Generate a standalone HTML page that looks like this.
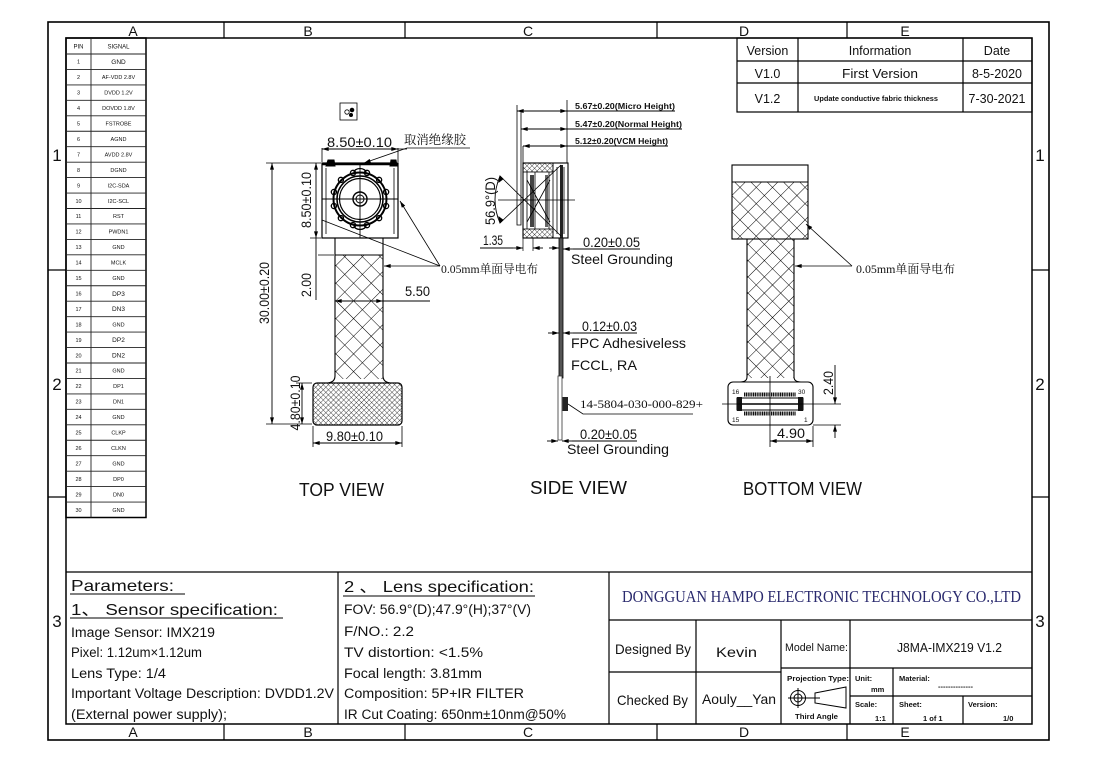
<!DOCTYPE html>
<html><head><meta charset="utf-8">
<style>
html,body{margin:0;padding:0;background:#fff;}
svg{display:block;}
text{font-family:"Liberation Sans","Noto Sans CJK SC",sans-serif;fill:#111;}
.sf{font-family:"Liberation Serif","Noto Serif CJK SC",serif;}
.cj{font-family:"Liberation Serif","Noto Serif CJK SC","Noto Sans CJK SC",serif;}
</style></head><body>
<svg width="1097" height="766" viewBox="0 0 1097 766" xmlns="http://www.w3.org/2000/svg">
<defs>
<pattern id="hb" patternUnits="userSpaceOnUse" width="12.5" height="12.5" patternTransform="rotate(45)">
<path d="M0 0H12.5M0 0V12.5" stroke="#000" stroke-width="1" fill="none"/>
</pattern>
<pattern id="hb2" patternUnits="userSpaceOnUse" width="11.5" height="11.5" patternTransform="rotate(45)">
<path d="M0 0H11.5M0 0V11.5" stroke="#000" stroke-width="1" fill="none"/>
</pattern>
<pattern id="hf" patternUnits="userSpaceOnUse" width="3.6" height="3.6" patternTransform="rotate(45)">
<path d="M0 0H3.6M0 0V3.6" stroke="#000" stroke-width="0.7" fill="none"/>
</pattern>
<marker id="ar" viewBox="0 0 10 6" refX="10" refY="3" markerWidth="8" markerHeight="4" orient="auto-start-reverse" markerUnits="userSpaceOnUse">
<path d="M0,0L10,3L0,6z" fill="#000"/>
</marker>
</defs>

<!-- FRAME -->
<g fill="none" stroke="#000">
<rect x="48" y="22" width="1001" height="718" stroke-width="1.6"/>
<rect x="66" y="38" width="966" height="686" stroke-width="1.5"/>
<path d="M224 22V38M405 22V38M657 22V38M847 22V38M224 724V740M405 724V740M657 724V740M847 724V740M48 270H66M48 497H66M1032 270H1049M1032 497H1049" stroke-width="1.2"/>
</g>
<g font-size="14" text-anchor="middle">
<text x="133" y="36">A</text><text x="308" y="36">B</text><text x="528" y="36">C</text><text x="744" y="36">D</text><text x="905" y="36">E</text>
<text x="133" y="737">A</text><text x="308" y="737">B</text><text x="528" y="737">C</text><text x="744" y="737">D</text><text x="905" y="737">E</text>
</g>
<g font-size="17" text-anchor="middle">
<text x="57" y="161">1</text><text x="57" y="390">2</text><text x="57" y="627">3</text>
<text x="1040" y="161">1</text><text x="1040" y="390">2</text><text x="1040" y="627">3</text>
</g>

<!-- PIN TABLE -->
<rect x="66" y="38" width="80" height="479.5" fill="none" stroke="#000" stroke-width="1.5"/>
<path d="M91 38V517.5M66 54H146M66 69.45H146M66 84.9H146M66 100.35H146M66 115.8H146M66 131.25H146M66 146.7H146M66 162.15H146M66 177.6H146M66 193.05H146M66 208.5H146M66 223.95H146M66 239.4H146M66 254.85H146M66 270.3H146M66 285.75H146M66 301.2H146M66 316.65H146M66 332.1H146M66 347.55H146M66 363H146M66 378.45H146M66 393.9H146M66 409.35H146M66 424.8H146M66 440.25H146M66 455.7H146M66 471.15H146M66 486.6H146M66 502.05H146" stroke="#222" stroke-width="0.9" fill="none"/>
<g font-size="6" text-anchor="middle">
<text x="78.5" y="48.5">PIN</text><text x="118.5" y="48.5">SIGNAL</text>
</g>
<g class="sf" font-size="5.5" text-anchor="middle" style="fill:#333">
<text x="78.5" y="63.7">1</text><text x="78.5" y="79.2">2</text><text x="78.5" y="94.6">3</text><text x="78.5" y="110.1">4</text><text x="78.5" y="125.5">5</text><text x="78.5" y="141">6</text><text x="78.5" y="156.4">7</text><text x="78.5" y="171.9">8</text><text x="78.5" y="187.3">9</text><text x="78.5" y="202.8">10</text><text x="78.5" y="218.2">11</text><text x="78.5" y="233.7">12</text><text x="78.5" y="249.1">13</text><text x="78.5" y="264.6">14</text><text x="78.5" y="280">15</text><text x="78.5" y="295.5">16</text><text x="78.5" y="310.9">17</text><text x="78.5" y="326.4">18</text><text x="78.5" y="341.8">19</text><text x="78.5" y="357.3">20</text><text x="78.5" y="372.7">21</text><text x="78.5" y="388.2">22</text><text x="78.5" y="403.6">23</text><text x="78.5" y="419.1">24</text><text x="78.5" y="434.5">25</text><text x="78.5" y="450">26</text><text x="78.5" y="465.4">27</text><text x="78.5" y="480.9">28</text><text x="78.5" y="496.3">29</text><text x="78.5" y="511.8">30</text>
<text x="118.5" y="79.2">AF-VDD 2.8V</text><text x="118.5" y="94.6">DVDD 1.2V</text><text x="118.5" y="110.1">DOVDD 1.8V</text><text x="118.5" y="125.5">FSTROBE</text><text x="118.5" y="141">AGND</text><text x="118.5" y="156.4">AVDD 2.8V</text><text x="118.5" y="171.9">DGND</text><text x="118.5" y="187.3">I2C-SDA</text><text x="118.5" y="202.8">I2C-SCL</text><text x="118.5" y="218.2">RST</text><text x="118.5" y="233.7">PWDN1</text><text x="118.5" y="249.1">GND</text><text x="118.5" y="264.6">MCLK</text><text x="118.5" y="280">GND</text><text x="118.5" y="326.4">GND</text><text x="118.5" y="372.7">GND</text><text x="118.5" y="388.2">DP1</text><text x="118.5" y="403.6">DN1</text><text x="118.5" y="419.1">GND</text><text x="118.5" y="434.5">CLKP</text><text x="118.5" y="450">CLKN</text><text x="118.5" y="465.4">GND</text><text x="118.5" y="480.9">DP0</text><text x="118.5" y="496.3">DN0</text><text x="118.5" y="511.8">GND</text>
</g>
<g font-size="6.5" text-anchor="middle">
<text x="118.5" y="64">GND</text><text x="118.5" y="295.8">DP3</text><text x="118.5" y="311.2">DN3</text><text x="118.5" y="342.1">DP2</text><text x="118.5" y="357.6">DN2</text>
</g>

<!-- VERSION TABLE -->
<g fill="none" stroke="#000" stroke-width="1.2">
<rect x="737" y="38" width="295" height="74"/>
<path d="M798 38V112M963 38V112M737 61H1032M737 83H1032"/>
</g>
<g font-size="12.5" text-anchor="middle">
<text x="767.5" y="55">Version</text><text x="880" y="55">Information</text><text x="997" y="55">Date</text>
<text x="767.5" y="78">V1.0</text><text x="880" y="78" textLength="76" lengthAdjust="spacingAndGlyphs">First Version</text><text x="997" y="78">8-5-2020</text>
<text x="767.5" y="103">V1.2</text><text x="997" y="103">7-30-2021</text>
</g>
<text x="876" y="101" font-size="7.5" font-weight="bold" text-anchor="middle" textLength="124" lengthAdjust="spacingAndGlyphs">Update conductive fabric thickness</text>

<!-- TOP VIEW -->
<g stroke="#000" fill="none" stroke-width="1">
<rect x="340" y="103" width="17" height="17" stroke-width="0.8"/>
<circle cx="347" cy="112" r="2.2" stroke-width="0.8"/><circle cx="352" cy="110" r="1.8" fill="#000"/><circle cx="351" cy="115" r="1.5" fill="#000"/>
<rect x="322" y="163" width="76" height="75" stroke-width="1.2"/>
<path d="M326 168V234M394 168V234" stroke-width="0.8"/>
<path d="M322 164H398" stroke-width="2.6"/>
<path d="M326 166L328 160H334L335 166Z M390 166L391 160H396L397 166Z" fill="#000"/>
<circle cx="360" cy="199" r="26.5" stroke-width="2"/>
<circle cx="360" cy="199" r="23" stroke-width="1.5"/>
<circle cx="360" cy="199" r="20.5" stroke-width="1.2"/>
<circle cx="360" cy="199" r="7" stroke-width="1.4"/>
<circle cx="360" cy="199" r="4" stroke-width="1"/>
<g stroke-width="1.3">
<circle cx="367" cy="172.9" r="2.6"/><circle cx="379.1" cy="179.9" r="2.6"/><circle cx="386.1" cy="192" r="2.6"/><circle cx="386.1" cy="206" r="2.6"/><circle cx="379.1" cy="218.1" r="2.6"/><circle cx="367" cy="225.1" r="2.6"/><circle cx="353" cy="225.1" r="2.6"/><circle cx="340.9" cy="218.1" r="2.6"/><circle cx="333.9" cy="206" r="2.6"/><circle cx="333.9" cy="192" r="2.6"/><circle cx="340.9" cy="179.9" r="2.6"/><circle cx="353" cy="172.9" r="2.6"/>
<path d="M354 172.5A6 4 0 0 1 366 172.5M354 225.5A6 4 0 0 0 366 225.5"/>
</g>
<path d="M322 199H398M360 163V238" stroke-width="0.9"/>
<path d="M335 238V376Q335 382 328 383M383 238V376Q383 382 390 383" stroke-width="1.1"/>
<path d="M335 255H383" stroke-width="1"/>
<rect x="335" y="255" width="48" height="124" fill="url(#hb)" stroke="none"/>
<rect x="313" y="383" width="89" height="42" rx="4" fill="url(#hf)" stroke-width="1.2"/>
<path d="M322 148V162M398 148V162M266 163H321M310 238H321M318 255H334M266 424H312M296 383H312M313 426V447M402 426V447" stroke-width="0.8"/>
<line x1="272" y1="163" x2="272" y2="424" marker-start="url(#ar)" marker-end="url(#ar)" stroke-width="0.9"/>
<line x1="322" y1="149" x2="398" y2="149" marker-start="url(#ar)" marker-end="url(#ar)" stroke-width="0.9"/>
<path d="M398 149H407" stroke-width="0.8"/>
<line x1="407" y1="148" x2="364" y2="163" marker-end="url(#ar)" stroke-width="0.8"/>
<path d="M407 148H470" stroke-width="0.8"/>
<line x1="316" y1="163" x2="316" y2="238" marker-start="url(#ar)" marker-end="url(#ar)" stroke-width="0.9"/>
<line x1="316" y1="238" x2="316" y2="300" stroke-width="0.9"/>
<line x1="302" y1="383" x2="302" y2="424" marker-start="url(#ar)" marker-end="url(#ar)" stroke-width="0.9"/>
<line x1="313" y1="443" x2="402" y2="443" marker-start="url(#ar)" marker-end="url(#ar)" stroke-width="0.9"/>
<line x1="335" y1="301" x2="383" y2="301" marker-start="url(#ar)" marker-end="url(#ar)" stroke-width="0.9"/>
<path d="M383 301H430" stroke-width="0.9"/>
<line x1="440" y1="266" x2="400" y2="201" marker-end="url(#ar)" stroke-width="0.8"/>
<line x1="440" y1="266" x2="322" y2="220" stroke-width="0.8"/>
<line x1="440" y1="266" x2="384" y2="266" marker-end="url(#ar)" stroke-width="0.8"/>
</g>
<g font-size="14">
<text x="327" y="147" textLength="65" lengthAdjust="spacingAndGlyphs">8.50±0.10</text>
<text x="405" y="296" textLength="25" lengthAdjust="spacingAndGlyphs">5.50</text>
<text x="326" y="441" textLength="57" lengthAdjust="spacingAndGlyphs">9.80±0.10</text>
<text transform="translate(269,293) rotate(-90)" text-anchor="middle" textLength="62" lengthAdjust="spacingAndGlyphs">30.00±0.20</text>
<text transform="translate(311,200) rotate(-90)" text-anchor="middle" textLength="56" lengthAdjust="spacingAndGlyphs">8.50±0.10</text>
<text transform="translate(311,285) rotate(-90)" text-anchor="middle" textLength="24" lengthAdjust="spacingAndGlyphs">2.00</text>
<text transform="translate(300,403) rotate(-90)" text-anchor="middle" textLength="55" lengthAdjust="spacingAndGlyphs">4.80±0.10</text>
</g>
<text class="cj" x="404" y="144" font-size="12.5" textLength="62" lengthAdjust="spacingAndGlyphs">取消绝缘胶</text>
<text class="cj" x="441" y="273" font-size="12" textLength="97" lengthAdjust="spacingAndGlyphs">0.05mm单面导电布</text>

<!-- SIDE VIEW -->
<g stroke="#000" fill="none" stroke-width="0.9">
<path d="M517 105V225H521V112M523 146V163M567 100V163" stroke-width="0.8"/>
<line x1="517" y1="111" x2="567" y2="111" marker-start="url(#ar)" marker-end="url(#ar)"/>
<path d="M567 111H675"/>
<line x1="521" y1="129" x2="567" y2="129" marker-start="url(#ar)" marker-end="url(#ar)"/>
<path d="M567 129H682"/>
<line x1="523" y1="146" x2="567" y2="146" marker-start="url(#ar)" marker-end="url(#ar)"/>
<path d="M567 146H668"/>
<rect x="523" y="163" width="45" height="75" stroke-width="1.1"/>
<rect x="523" y="163" width="30" height="9" fill="url(#hf)" stroke-width="0.8"/>
<rect x="523" y="229" width="30" height="9" fill="url(#hf)" stroke-width="0.8"/>
<path d="M527 172V229M535 172V229M549 172V229M553 163V238M557 167V234M564 167V234" stroke-width="0.8"/>
<rect x="530" y="175" width="4" height="52" fill="#444" stroke="none"/>
<rect x="545" y="175" width="3" height="52" fill="#666" stroke="none"/>
<path d="M527 180L550 222M527 222L550 180" stroke-width="0.8"/>
<rect x="560" y="165" width="3" height="73" fill="#222" stroke="none"/>
<path d="M500 176Q490 200 500 223" stroke-width="0.9"/>
<path d="M500 176L561 236M500 223L561 165" stroke-width="0.8"/>
<path d="M498 200H575" stroke-width="0.8"/>
<path d="M500 176l-1 6l4-3zM500 223l-1-6l4 3z" fill="#000"/>
<path d="M523 238V251M533 238V251" stroke-width="0.7"/>
<path d="M480 248H513" stroke-width="0.9"/>
<line x1="513" y1="248" x2="523" y2="248" marker-end="url(#ar)"/>
<line x1="543" y1="248" x2="533" y2="248" marker-end="url(#ar)"/>
<rect x="559" y="238" width="4" height="140" fill="#555" stroke="#000" stroke-width="0.8"/>
<rect x="558" y="376" width="4" height="64" fill="#fff" stroke="#333" stroke-width="0.8"/>
<rect x="562.5" y="397" width="5.5" height="14" fill="#222" stroke="none"/>
<line x1="549" y1="248" x2="559" y2="248" marker-end="url(#ar)"/>
<line x1="573" y1="249" x2="563" y2="249" marker-end="url(#ar)"/>
<path d="M573 249H640"/>
<line x1="548" y1="333" x2="559" y2="333" marker-end="url(#ar)"/>
<line x1="573" y1="333" x2="563" y2="333" marker-end="url(#ar)"/>
<path d="M573 333H637"/>
<line x1="547" y1="441" x2="558" y2="441" marker-end="url(#ar)"/>
<line x1="572" y1="441" x2="562" y2="441" marker-end="url(#ar)"/>
<path d="M572 441H637"/>
<path d="M568 404L583 414H693" stroke-width="0.8"/>
</g>
<g font-size="8.5" font-weight="bold">
<text x="575" y="109" textLength="100" lengthAdjust="spacingAndGlyphs">5.67±0.20(Micro Height)</text>
<text x="575" y="127" textLength="107" lengthAdjust="spacingAndGlyphs">5.47±0.20(Normal Height)</text>
<text x="575" y="144" textLength="93" lengthAdjust="spacingAndGlyphs">5.12±0.20(VCM Height)</text>
</g>
<g font-size="14">
<text transform="translate(495,201) rotate(-90)" text-anchor="middle" textLength="48" lengthAdjust="spacingAndGlyphs">56.9°(D)</text>
<text x="483" y="245" textLength="20" lengthAdjust="spacingAndGlyphs">1.35</text>
<text x="583" y="247" textLength="57" lengthAdjust="spacingAndGlyphs">0.20±0.05</text>
<text x="571" y="264" textLength="102" lengthAdjust="spacingAndGlyphs">Steel Grounding</text>
<text x="582" y="331" textLength="55" lengthAdjust="spacingAndGlyphs">0.12±0.03</text>
<text x="571" y="348" textLength="115" lengthAdjust="spacingAndGlyphs">FPC Adhesiveless</text>
<text x="571" y="370" textLength="66" lengthAdjust="spacingAndGlyphs">FCCL,  RA</text>
<text x="580" y="439" textLength="57" lengthAdjust="spacingAndGlyphs">0.20±0.05</text>
<text x="567" y="454" textLength="102" lengthAdjust="spacingAndGlyphs">Steel Grounding</text>
</g>
<text class="sf" x="580" y="408" font-size="12" textLength="123" lengthAdjust="spacingAndGlyphs">14-5804-030-000-829+</text>

<!-- BOTTOM VIEW -->
<g stroke="#000" fill="none" stroke-width="1.1">
<rect x="732" y="182" width="76" height="57" fill="url(#hb2)" stroke="none"/>
<rect x="732" y="165" width="76" height="74"/>
<path d="M732 182H808"/>
<rect x="747" y="239" width="47" height="139" fill="url(#hb2)" stroke="none"/>
<path d="M747 239V377Q747 382 740 382M794 239V377Q794 382 801 382"/>
<rect x="728" y="382" width="85" height="43" rx="5" fill="#fff"/>
<rect x="737" y="398" width="66" height="12" stroke-width="1"/>
<rect x="737" y="397" width="5" height="14" fill="#111" stroke="none"/>
<rect x="798" y="397" width="5" height="14" fill="#111" stroke="none"/>
<path d="M744 394.5H796M744 413.5H796" stroke-width="4" stroke-dasharray="1.2 0.6" stroke="#111"/>
<path d="M742 404H798" stroke-width="1.5"/>
<path d="M770 376V447M722 404H841" stroke-width="0.8"/>
<path d="M813 425H841M813 426V447" stroke-width="0.8"/>
<line x1="835" y1="390" x2="835" y2="404" marker-end="url(#ar)" stroke-width="0.9"/>
<line x1="835" y1="438" x2="835" y2="425" marker-end="url(#ar)" stroke-width="0.9"/>
<path d="M835 365V390" stroke-width="0.9"/>
<line x1="770" y1="441" x2="813" y2="441" marker-start="url(#ar)" marker-end="url(#ar)" stroke-width="0.9"/>
<line x1="852" y1="266" x2="806" y2="224" marker-end="url(#ar)" stroke-width="0.8"/>
<line x1="852" y1="266" x2="795" y2="266" marker-end="url(#ar)" stroke-width="0.8"/>
</g>
<g class="sf" font-size="6.5">
<text x="732" y="394">16</text><text x="798" y="394">30</text><text x="732" y="422">15</text><text x="804" y="422">1</text>
</g>
<g font-size="14">
<text x="777" y="438" textLength="28" lengthAdjust="spacingAndGlyphs">4.90</text>
<text transform="translate(833,383) rotate(-90)" text-anchor="middle" textLength="24" lengthAdjust="spacingAndGlyphs">2.40</text>
</g>
<text class="cj" x="856" y="273" font-size="12" textLength="99" lengthAdjust="spacingAndGlyphs">0.05mm单面导电布</text>

<!-- VIEW TITLES -->
<g class="sf" font-size="18">
<text x="299" y="496" textLength="85" lengthAdjust="spacingAndGlyphs">TOP VIEW</text>
<text x="530" y="494" textLength="97" lengthAdjust="spacingAndGlyphs">SIDE VIEW</text>
<text x="743" y="495" textLength="119" lengthAdjust="spacingAndGlyphs">BOTTOM VIEW</text>
</g>

<!-- TITLE BLOCK -->
<g fill="none" stroke="#000" stroke-width="1.2">
<path d="M66 572H1032M338 572V724M609 572V724M609 620H1032M609 672H781M781 668H1032M850 696H1032M696 620V724M781 620V724M850 620V724M893 668V724M963 696V724"/>
<path d="M70 594H185M70 618H283M343 596H535" stroke-width="1"/>
</g>
<g font-size="16">
<text x="71" y="591" textLength="103" lengthAdjust="spacingAndGlyphs">Parameters:</text>
<text x="71" y="615" textLength="207" lengthAdjust="spacingAndGlyphs">1、 Sensor specification:</text>
<text x="344" y="592" textLength="190" lengthAdjust="spacingAndGlyphs">2 、 Lens specification:</text>
</g>
<g font-size="13.5">
<text x="71" y="637" textLength="144" lengthAdjust="spacingAndGlyphs">Image Sensor:  IMX219</text>
<text x="71" y="657" textLength="131" lengthAdjust="spacingAndGlyphs">Pixel:  1.12um×1.12um</text>
<text x="71" y="678" textLength="95" lengthAdjust="spacingAndGlyphs">Lens Type:  1/4</text>
<text x="71" y="698" textLength="263" lengthAdjust="spacingAndGlyphs">Important Voltage Description: DVDD1.2V</text>
<text x="71" y="719" textLength="156" lengthAdjust="spacingAndGlyphs">(External power supply);</text>
<text x="344" y="614" textLength="187" lengthAdjust="spacingAndGlyphs">FOV:  56.9°(D);47.9°(H);37°(V)</text>
<text x="344" y="636" textLength="70" lengthAdjust="spacingAndGlyphs">F/NO.:  2.2</text>
<text x="344" y="657" textLength="139" lengthAdjust="spacingAndGlyphs">TV distortion:  &lt;1.5%</text>
<text x="344" y="678" textLength="138" lengthAdjust="spacingAndGlyphs">Focal length:  3.81mm</text>
<text x="344" y="698" textLength="180" lengthAdjust="spacingAndGlyphs">Composition:  5P+IR  FILTER</text>
<text x="344" y="719" textLength="222" lengthAdjust="spacingAndGlyphs">IR Cut Coating:  650nm±10nm@50%</text>
</g>
<text class="sf" x="622" y="602" font-size="17" style="fill:#2a2a6e" textLength="399" lengthAdjust="spacingAndGlyphs">DONGGUAN HAMPO ELECTRONIC TECHNOLOGY CO.,LTD</text>
<g font-size="14">
<text x="615" y="654" textLength="76" lengthAdjust="spacingAndGlyphs">Designed By</text>
<text x="716" y="657" textLength="41" lengthAdjust="spacingAndGlyphs">Kevin</text>
<text x="617" y="705" textLength="71" lengthAdjust="spacingAndGlyphs">Checked By</text>
<text x="702" y="704" textLength="74" lengthAdjust="spacingAndGlyphs">Aouly__Yan</text>
<text x="897" y="652" font-size="13" textLength="105" lengthAdjust="spacingAndGlyphs">J8MA-IMX219 V1.2</text>
<text x="785" y="651" font-size="11" textLength="63" lengthAdjust="spacingAndGlyphs">Model Name:</text>
</g>
<g font-size="7.5" font-weight="bold">
<text x="787" y="681" textLength="62" lengthAdjust="spacingAndGlyphs">Projection Type:</text>
<text x="795" y="719" textLength="43" lengthAdjust="spacingAndGlyphs">Third Angle</text>
<text x="855" y="681">Unit:</text>
<text x="871" y="692">mm</text>
<text x="899" y="681">Material:</text>
<text x="938" y="689">--------------</text>
<text x="855" y="707">Scale:</text>
<text x="875" y="721">1:1</text>
<text x="899" y="707">Sheet:</text>
<text x="923" y="721">1 of 1</text>
<text x="968" y="707">Version:</text>
<text x="1003" y="721">1/0</text>
</g>
<g fill="none" stroke="#000" stroke-width="1">
<circle cx="798" cy="698" r="7.5"/>
<circle cx="798" cy="698" r="4"/>
<path d="M788 698H808M798 688V708M815 693L846 687V708L815 703ZM808 698H820"/>
</g>
</svg>
</body></html>
